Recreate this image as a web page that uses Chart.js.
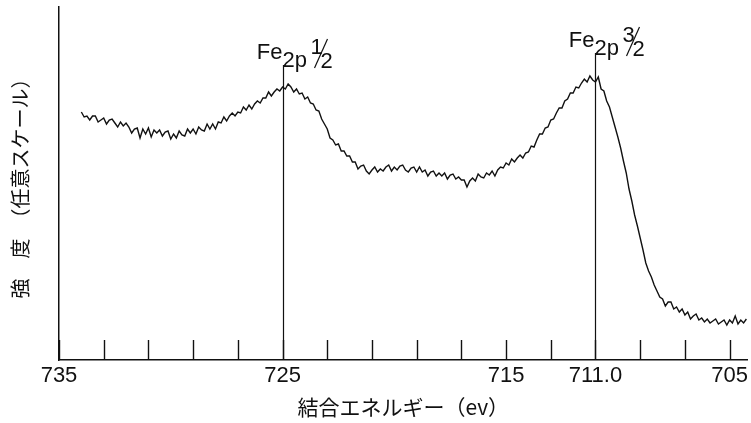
<!DOCTYPE html>
<html>
<head>
<meta charset="utf-8">
<script src="https://cdn.jsdelivr.net/npm/chart.js@4/dist/chart.umd.min.js"></script>
<style>
  html, body { margin: 0; padding: 0; background: #fff; }
  #wrap { width: 751px; height: 423px; }
</style>
</head>
<body>
<div id="wrap"><canvas id="xps" width="751" height="423"></canvas></div>
<script>
// 結合エネルギー (eV)
const energies = [
  734, 733.875, 733.75, 733.625, 733.5, 733.375, 733.25, 733.125,
  733, 732.875, 732.75, 732.625, 732.5, 732.375, 732.25, 732.125,
  732, 731.875, 731.75, 731.625, 731.5, 731.375, 731.25, 731.125,
  731, 730.875, 730.75, 730.625, 730.5, 730.375, 730.25, 730.125,
  730, 729.875, 729.75, 729.625, 729.5, 729.375, 729.25, 729.125,
  729, 728.875, 728.75, 728.625, 728.5, 728.375, 728.25, 728.125,
  728, 727.875, 727.75, 727.625, 727.5, 727.375, 727.25, 727.125,
  727, 726.875, 726.75, 726.625, 726.5, 726.375, 726.25, 726.125,
  726, 725.875, 725.75, 725.625, 725.5, 725.375, 725.25, 725.125,
  725, 724.875, 724.75, 724.625, 724.5, 724.375, 724.25, 724.125,
  724, 723.875, 723.75, 723.625, 723.5, 723.375, 723.25, 723.125,
  723, 722.875, 722.75, 722.625, 722.5, 722.375, 722.25, 722.125,
  722, 721.875, 721.75, 721.625, 721.5, 721.375, 721.25, 721.125,
  721, 720.875, 720.75, 720.625, 720.5, 720.375, 720.25, 720.125,
  720, 719.875, 719.75, 719.625, 719.5, 719.375, 719.25, 719.125,
  719, 718.875, 718.75, 718.625, 718.5, 718.375, 718.25, 718.125,
  718, 717.875, 717.75, 717.625, 717.5, 717.375, 717.25, 717.125,
  717, 716.875, 716.75, 716.625, 716.5, 716.375, 716.25, 716.125,
  716, 715.875, 715.75, 715.625, 715.5, 715.375, 715.25, 715.125,
  715, 714.875, 714.75, 714.625, 714.5, 714.375, 714.25, 714.125,
  714, 713.875, 713.75, 713.625, 713.5, 713.375, 713.25, 713.125,
  713, 712.875, 712.75, 712.625, 712.5, 712.375, 712.25, 712.125,
  712, 711.875, 711.75, 711.625, 711.5, 711.375, 711.25, 711.125,
  711, 710.875, 710.75, 710.625, 710.5, 710.375, 710.25, 710.125,
  710, 709.875, 709.75, 709.625, 709.5, 709.375, 709.25, 709.125,
  709, 708.875, 708.75, 708.625, 708.5, 708.375, 708.25, 708.125,
  708, 707.875, 707.75, 707.625, 707.5, 707.375, 707.25, 707.125,
  707, 706.875, 706.75, 706.625, 706.5, 706.375, 706.25, 706.125,
  706, 705.875, 705.75, 705.625, 705.5, 705.375, 705.25, 705.125,
  705, 704.875, 704.75, 704.625, 704.5, 704.375, 704.25
];

// 強度 (任意スケール)
const intensity = [
  248, 243, 244, 240, 244, 244, 238, 240,
  242, 236, 240, 241, 237, 233, 238, 234,
  237, 233, 227, 231, 232, 222, 231, 226,
  232, 223, 230, 227, 230, 224, 228, 229,
  221, 226, 222, 229, 225, 224, 231, 227,
  231, 226, 233, 230, 229, 236, 231, 236,
  231, 238, 237, 243, 239, 244, 247, 244,
  248, 247, 253, 250, 255, 251, 256, 259,
  257, 262, 262, 268, 264, 268, 271, 269,
  273, 271, 276, 273, 268, 271, 266, 267,
  261, 263, 257, 256, 250, 249, 241, 236,
  231, 222, 220, 215, 216, 209, 209, 204,
  204, 198, 198, 191, 194, 195, 189, 186,
  190, 193, 188, 191, 189, 193, 195, 189,
  193, 190, 194, 195, 190, 188, 192, 193,
  188, 193, 188, 190, 184, 188, 189, 184,
  187, 184, 187, 181, 185, 186, 181, 183,
  180, 180, 173, 179, 182, 179, 186, 183,
  182, 187, 185, 189, 184, 190, 193, 192,
  197, 195, 201, 198, 202, 205, 202, 207,
  208, 214, 213, 220, 226, 226, 232, 233,
  240, 241, 247, 252, 252, 259, 261, 267,
  267, 273, 272, 277, 281, 278, 284, 280,
  278, 283, 271, 269, 259, 253, 243, 233,
  223, 212, 199, 187, 171, 159, 145, 134,
  122, 110, 97, 89, 83, 75, 69, 63,
  61, 54, 58, 58, 51, 53, 48, 51,
  45, 48, 41, 44, 46, 40, 42, 38,
  41, 37, 39, 41, 36, 38, 40, 35,
  40, 37, 44, 36, 40, 37, 41
];

// 目盛り
const tickValues = [735, 733, 731, 729, 727, 725, 723, 721, 719, 717, 715, 713, 711, 709, 707, 705];
const labelValues = [735, 725, 715, 711, 705];
const tickLabels = ['735', '725', '715', '711.0', '705'];

// ピーク位置
const peakEnergies = [725, 711];
const peakTops = [295, 307];
const peakFractions = [['1', '2'], ['3', '2']];

const latin = "'Liberation Sans', 'DejaVu Sans Condensed', sans-serif";
const cjk = "'Noto Sans CJK JP', 'Noto Sans CJK SC', sans-serif";

// 内向きの目盛り線
const innerTicks = {
  id: 'innerTicks',
  afterDraw(chart) {
    const { ctx } = chart;
    const xs = chart.scales.x;
    const ys = chart.scales.y;
    ctx.save();
    ctx.strokeStyle = '#111';
    ctx.lineWidth = 1.4;
    tickValues.forEach(v => {
      const px = Math.round(xs.getPixelForValue(v)) + 0.5;
      ctx.beginPath();
      ctx.moveTo(px, ys.bottom);
      ctx.lineTo(px, ys.bottom - 20);
      ctx.stroke();
    });
    ctx.restore();
  }
};

// ピーク線とラベル
const peakMarks = {
  id: 'peakMarks',
  afterDatasetsDraw(chart) {
    const { ctx } = chart;
    const xs = chart.scales.x;
    const ys = chart.scales.y;
    ctx.save();
    peakEnergies.forEach((e, i) => {
      const px = Math.round(xs.getPixelForValue(e)) + 0.5;
      const top = ys.getPixelForValue(peakTops[i]);
      ctx.strokeStyle = '#111';
      ctx.lineWidth = 1.2;
      ctx.beginPath();
      ctx.moveTo(px, top);
      ctx.lineTo(px, ys.bottom);
      ctx.stroke();

      ctx.fillStyle = '#111';
      ctx.font = '22px ' + latin;
      ctx.textBaseline = 'alphabetic';
      ctx.textAlign = 'right';
      ctx.fillText('Fe', px - 1, top - 6);
      ctx.textAlign = 'left';
      ctx.fillText('2p', px - 1, top + 2);

      const fr = peakFractions[i];
      ctx.fillText(fr[0], px + 27, top - 11);
      ctx.fillText(fr[1], px + 37, top + 3);
      ctx.lineWidth = 1.2;
      ctx.beginPath();
      ctx.moveTo(px + 31, top + 3);
      ctx.lineTo(px + 44, top - 26);
      ctx.stroke();
    });
    ctx.restore();
  }
};

new Chart(document.getElementById('xps'), {
  type: 'line',
  data: {
    datasets: [{
      data: energies.map((e, i) => ({ x: e, y: intensity[i] })),
      borderColor: '#111',
      borderWidth: 1.4,
      pointRadius: 0,
      tension: 0,
      fill: false
    }]
  },
  options: {
    responsive: false,
    animation: false,
    devicePixelRatio: 1,
    layout: { padding: { left: 0, right: 1, top: 7, bottom: 0 } },
    plugins: {
      legend: { display: false },
      tooltip: { enabled: false }
    },
    scales: {
      x: {
        type: 'linear',
        reverse: true,
        min: 704.2,
        max: 735,
        afterBuildTicks: scale => {
          scale.ticks = tickValues.map(v => ({ value: v }));
        },
        afterFit: scale => { scale.height = 63; },
        grid: { display: false, drawTicks: false },
        border: { display: true, color: '#111', width: 1.5 },
        ticks: {
          autoSkip: false,
          maxRotation: 0,
          padding: 3,
          color: '#111',
          font: { family: latin, size: 22 },
          callback: value => {
            const k = labelValues.indexOf(value);
            return k >= 0 ? tickLabels[k] : '';
          }
        },
        title: {
          display: true,
          text: '結合エネルギー（ev）',
          color: '#111',
          font: { family: cjk, size: 21 },
          padding: { top: 0, bottom: 3 }
        }
      },
      y: {
        min: 0,
        max: 353,
        afterFit: scale => { scale.width = 59; },
        grid: { display: false, drawTicks: false },
        border: { display: true, color: '#111', width: 1.5 },
        ticks: { display: false },
        title: {
          display: true,
          text: '強　度　（任意スケール）',
          color: '#111',
          font: { family: cjk, size: 20 },
          padding: { top: 8, bottom: 0 }
        }
      }
    }
  },
  plugins: [innerTicks, peakMarks]
});
</script>
</body>
</html>
